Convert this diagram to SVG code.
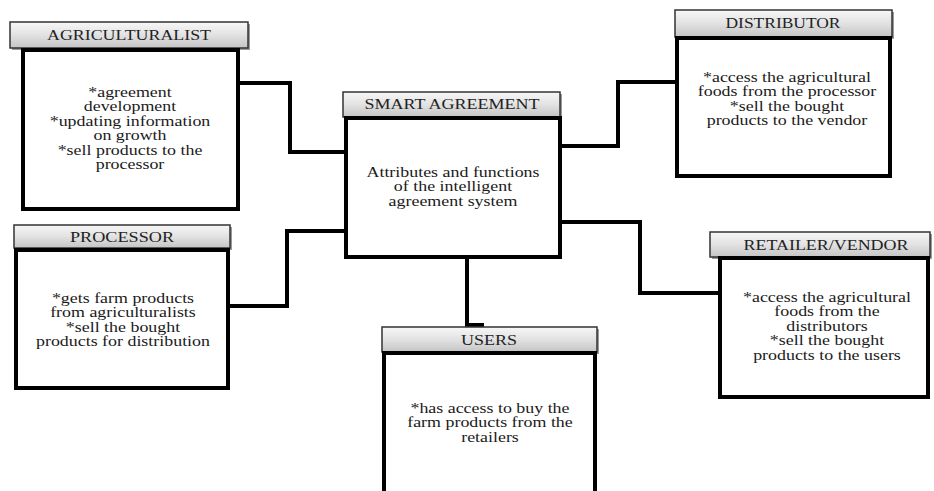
<svg xmlns="http://www.w3.org/2000/svg" width="934" height="491" viewBox="0 0 934 491">
<defs>
<linearGradient id="hg" x1="0" y1="0" x2="0" y2="1">
<stop offset="0" stop-color="#f7f7f7"/>
<stop offset="0.5" stop-color="#e2e2e2"/>
<stop offset="1" stop-color="#c4c4c4"/>
</linearGradient>
</defs>
<style>
.hd{fill:url(#hg);stroke:#333;stroke-width:1.5}
.hs{fill:#9a9a9a}
.bd{fill:#fff;stroke:#000;stroke-width:4}
.ht{font-family:"Liberation Serif","Times New Roman",serif;font-size:15px;fill:#222;text-anchor:middle}
.bt{font-family:"Liberation Serif","Times New Roman",serif;font-size:14px;fill:#1a1a1a;text-anchor:middle}
.cn{fill:none;stroke:#000;stroke-width:4;stroke-linejoin:miter}
</style>
<rect width="934" height="491" fill="#fff"/>
<g id="connectors">
<polyline class="cn" points="238,83 290,83 290,152 345,152"/>
<polyline class="cn" points="230,306 287,306 287,231 345,231"/>
<polyline class="cn" points="560,146 618,146 618,82 677,82"/>
<polyline class="cn" points="560,222 640,222 640,293 720,293"/>
<polyline class="cn" points="467,258 467,325 484,325"/>
</g>
<g id="agriculturalist">
<rect class="hs" x="12" y="24" width="238" height="26"/>
<rect class="hd" x="10" y="22" width="238" height="26"/>
<text class="ht" x="129" y="40" textLength="164" lengthAdjust="spacingAndGlyphs">AGRICULTURALIST</text>
<rect class="bd" x="23" y="50" width="215" height="159"/>
<g transform="translate(130,0) scale(1.28,1) translate(-130,0)">
<text class="bt" x="130" y="97">*agreement</text>
<text class="bt" x="130" y="111.5">development</text>
<text class="bt" x="130" y="126">*updating information</text>
<text class="bt" x="130" y="140.5">on growth</text>
<text class="bt" x="130" y="155">*sell products to the</text>
<text class="bt" x="130" y="169.5">processor</text>
</g>
</g>
<g id="smart-agreement">
<rect class="hs" x="345" y="94" width="217" height="25"/>
<rect class="hd" x="343" y="92" width="217" height="25"/>
<text class="ht" x="452" y="109" textLength="175" lengthAdjust="spacingAndGlyphs">SMART AGREEMENT</text>
<rect class="bd" x="346" y="118" width="214" height="139"/>
<g transform="translate(453,0) scale(1.28,1) translate(-453,0)">
<text class="bt" x="453" y="177">Attributes and functions</text>
<text class="bt" x="453" y="191.5">of the intelligent</text>
<text class="bt" x="453" y="206">agreement system</text>
</g>
</g>
<g id="distributor">
<rect class="hs" x="677" y="12" width="217" height="27"/>
<rect class="hd" x="675" y="10" width="217" height="27"/>
<text class="ht" x="783" y="28" textLength="115" lengthAdjust="spacingAndGlyphs">DISTRIBUTOR</text>
<rect class="bd" x="677" y="38" width="213" height="138"/>
<g transform="translate(787,0) scale(1.28,1) translate(-787,0)">
<text class="bt" x="787" y="82">*access the agricultural</text>
<text class="bt" x="787" y="96.5">foods from the processor</text>
<text class="bt" x="787" y="111">*sell the bought</text>
<text class="bt" x="787" y="125.5">products to the vendor</text>
</g>
</g>
<g id="processor">
<rect class="hs" x="16" y="227" width="216" height="23"/>
<rect class="hd" x="14" y="225" width="216" height="23"/>
<text class="ht" x="122" y="242" textLength="104" lengthAdjust="spacingAndGlyphs">PROCESSOR</text>
<rect class="bd" x="16" y="250" width="212" height="138"/>
<g transform="translate(123,0) scale(1.28,1) translate(-123,0)">
<text class="bt" x="123" y="303">*gets farm products</text>
<text class="bt" x="123" y="317.5">from agriculturalists</text>
<text class="bt" x="123" y="332">*sell the bought</text>
<text class="bt" x="123" y="346.5">products for distribution</text>
</g>
</g>
<g id="retailer-vendor">
<rect class="hs" x="712" y="234" width="220" height="25"/>
<rect class="hd" x="710" y="232" width="220" height="25"/>
<text class="ht" x="826" y="250" textLength="165" lengthAdjust="spacingAndGlyphs">RETAILER/VENDOR</text>
<rect class="bd" x="720" y="258" width="208" height="139"/>
<g transform="translate(827,0) scale(1.28,1) translate(-827,0)">
<text class="bt" x="827" y="302">*access the agricultural</text>
<text class="bt" x="827" y="316.5">foods from the</text>
<text class="bt" x="827" y="331">distributors</text>
<text class="bt" x="827" y="345.5">*sell the bought</text>
<text class="bt" x="827" y="360">products to the users</text>
</g>
</g>
<g id="users">
<rect class="hs" x="384" y="329" width="215" height="25"/>
<rect class="hd" x="382" y="327" width="215" height="25"/>
<text class="ht" x="489" y="345" textLength="56" lengthAdjust="spacingAndGlyphs">USERS</text>
<rect class="bd" x="384" y="353" width="211" height="142"/>
<g transform="translate(490,0) scale(1.28,1) translate(-490,0)">
<text class="bt" x="490" y="413">*has access to buy the</text>
<text class="bt" x="490" y="427.5">farm products from the</text>
<text class="bt" x="490" y="442">retailers</text>
</g>
</g>
</svg>
